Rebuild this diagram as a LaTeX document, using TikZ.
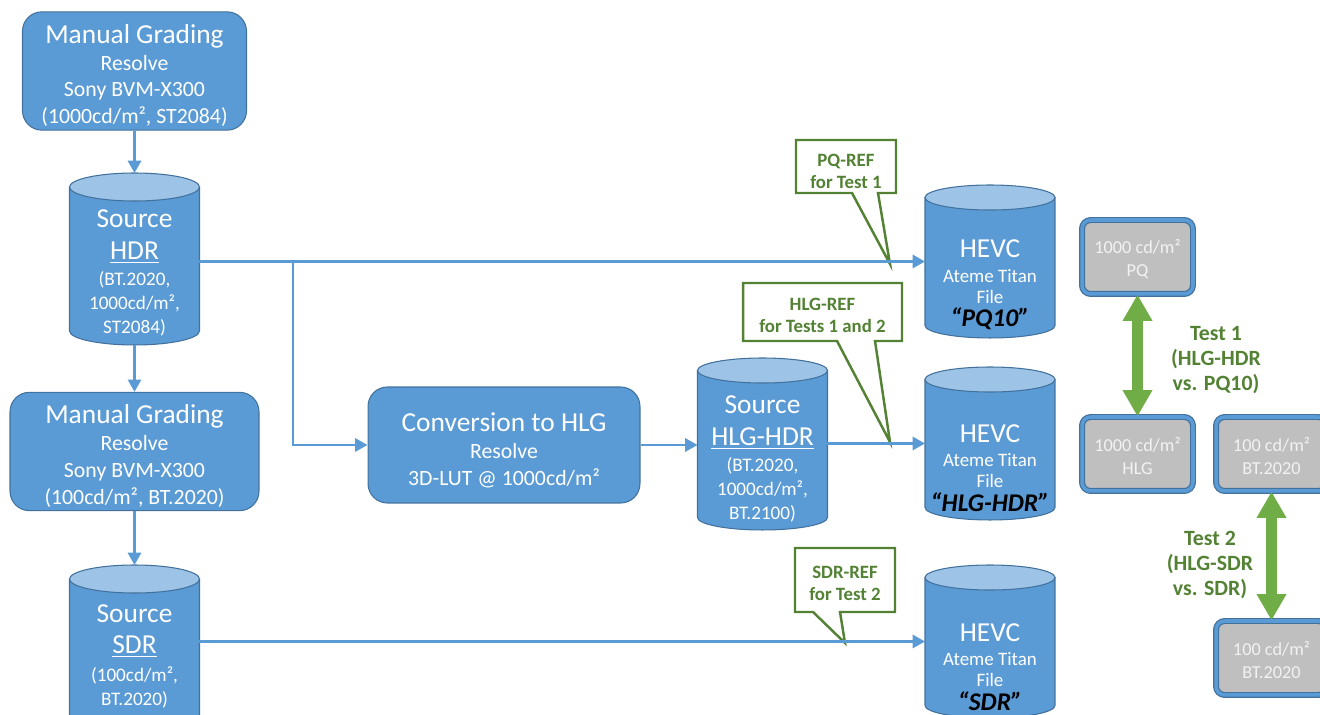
\documentclass[tikz,border=0pt]{standalone}
\usepackage{fontspec}
\setmainfont{Carlito}
\usepackage{tikz}
\usetikzlibrary{arrows.meta,positioning,calc,backgrounds}
\definecolor{hdblue}{HTML}{5B9BD5}
\definecolor{hdedge}{HTML}{41719C}
\definecolor{hdtop}{HTML}{9DC3E6}
\definecolor{hdgreen}{HTML}{70AD47}
\definecolor{hdtext}{HTML}{548235}
\definecolor{hdgray}{HTML}{BFBFBF}
\definecolor{hdlight}{HTML}{F2F2F2}
\newcommand{\hdbig}{\fontsize{15.6}{18}\selectfont}
\newcommand{\hdmid}{\fontsize{12.4}{15.2}\selectfont}
\newcommand{\hdsmall}{\fontsize{10.9}{13.6}\selectfont}
\newcommand{\hdname}{\fontsize{14.5}{16}\selectfont\bfseries\itshape\color{black}}
\newcommand{\hdup}[1]{\rule{0pt}{#1}}
% cylinder drawn round a named rectangle node
\newcommand{\drawdrum}[2]{%
  \draw[hdedge, line width=0.6pt, fill=hdblue]
    ([yshift=-#2]#1.north west) -- ([yshift=#2]#1.south west)
    arc[start angle=180, end angle=360, x radius=1.3cm, y radius=#2]
    -- ([yshift=-#2]#1.north east) -- cycle;
  \draw[hdedge, line width=0.6pt, fill=hdtop]
    ([yshift=-#2]#1.north) ellipse[x radius=1.3cm, y radius=#2];}
\tikzset{
  hdbox/.style={draw=hdedge, line width=0.6pt, fill=hdblue, rounded corners=11pt, text=white, align=center, font=\hdmid, inner sep=2pt},
  hddrum/.style={rectangle, minimum width=2.6cm, inner sep=0pt, outer sep=0pt},
  hdcyltext/.style={text=white, align=center, font=\hdsmall, inner sep=0pt},
  hdfiletext/.style={text=white, align=center, font=\fontsize{10.8}{12}\selectfont, inner sep=0pt},
  hdline/.style={draw=hdblue, line width=1.4pt, -{Triangle[length=7pt,width=7.5pt]}},
  hdref/.style={align=center, text=hdtext, font=\fontsize{10.7}{12.5}\selectfont\bfseries, inner sep=0pt, outer sep=0pt},
  hdrefline/.style={draw=hdtext, line width=1.4pt, fill=white},
  hdscreen/.style={draw=hdedge, double=hdblue, double distance=2pt, line width=0.7pt, fill=hdgray, rounded corners=5pt, minimum width=2.22cm, minimum height=1.48cm, text=hdlight, align=center, font=\fontsize{10.4}{13}\selectfont},
  hdtest/.style={draw=hdgreen, line width=6.2pt, {Triangle[length=15pt,width=16pt]}-{Triangle[length=15pt,width=16pt]}},
  hdtestlabel/.style={align=center, text=hdtext, font=\fontsize{12.4}{14.2}\selectfont\bfseries}
}

\begin{document}
\begin{tikzpicture}[x=0.02cm, y=-0.02cm]
  \useasboundingbox (0,0) rectangle (1320,715);

  % grading and source files
  \node[hdbox, minimum width=4.48cm, minimum height=2.36cm] (grade1) at (134.5,71)
    {{\hdbig\hdup{16pt}Manual Grading}\\Resolve\\Sony BVM-X300\\(1000cd/m², ST2084)};
  \node[hddrum, minimum height=3.44cm] (srchdr) at (134.5,259) {};
  \drawdrum{srchdr}{0.28cm}
  \node[hdcyltext] (srchdrtxt) at (134.5,273)
    {{\hdbig Source}\\[4.5pt]{\hdbig\underline{HDR}}\\[1pt](BT.2020,\\1000cd/m²,\\ST2084)};
  \node[hdbox, minimum width=4.98cm, minimum height=2.34cm] (grade2) at (134.5,451.5)
    {{\hdbig\hdup{16pt}Manual Grading}\\Resolve\\Sony BVM-X300\\(100cd/m², BT.2020)};
  \node[hddrum, minimum height=3.44cm] (srcsdr) at (134.5,651) {};
  \drawdrum{srcsdr}{0.28cm}
  \node[hdcyltext] (srcsdrtxt) at (134.5,656)
    {{\hdbig Source}\\[4.5pt]{\hdbig\underline{SDR}}\\[2pt](100cd/m²,\\BT.2020)};

  % HLG conversion
  \node[hdbox, minimum width=5.44cm, minimum height=2.32cm] (conv) at (504,445)
    {{\hdbig\hdup{17pt}Conversion to HLG}\\Resolve\\3D-LUT @ 1000cd/m²};
  \node[hddrum, minimum height=3.44cm] (srchlg) at (762.5,444) {};
  \drawdrum{srchlg}{0.25cm}
  \node[hdcyltext] (srchlgtxt) at (762.5,459)
    {{\hdbig Source}\\[4.5pt]{\hdbig\underline{HLG-HDR}}\\[1.5pt](BT.2020,\\1000cd/m²,\\BT.2100)};

  % encoded files
  \node[hddrum, minimum height=3.06cm] (hevcpq) at (990,261.5) {};
  \drawdrum{hevcpq}{0.25cm}
  \node[hdfiletext] (hevcpqtxt) at (990,285)
    {{\hdbig HEVC}\\[2pt]Ateme Titan\\File\\[1.5pt]{\hdname “PQ10”}};
  \node[hddrum, minimum height=3.06cm] (hevchlg) at (990,443.5) {};
  \drawdrum{hevchlg}{0.25cm}
  \node[hdfiletext] (hevchlgtxt) at (990,468)
    {{\hdbig HEVC}\\[2pt]Ateme Titan\\File\\[1.5pt]{\hdname “HLG-HDR”}};
  \node[hddrum, minimum height=3.06cm] (hevcsdr) at (990,641.5) {};
  \drawdrum{hevcsdr}{0.25cm}
  \node[hdfiletext] (hevcsdrtxt) at (990,667)
    {{\hdbig HEVC}\\[2pt]Ateme Titan\\File\\[1.5pt]{\hdname “SDR”}};

  \coordinate (split) at (293,0 |- hevcpq.west);
  \draw[hdline] (grade1) -- (srchdr);
  \draw[hdline] (srchdr) -- (grade2);
  \draw[hdline] (grade2) -- (srcsdr);
  \draw[hdline] (hevcpq.west -| srchdr.east) -- (hevcpq.west);
  \draw[hdline] (split) |- (conv.west);
  \draw[hdline] (conv.east) -- (conv.east -| srchlg.west);
  \draw[hdline] (hevchlg.west -| srchlg.east) -- (hevchlg.west);
  \draw[hdline] (hevcsdr.west -| srcsdr.east) -- (hevcsdr.west);

  % reference callouts
  \node[hdref, minimum width=2cm, minimum height=1.06cm] (pqref) at (846,166.5) {\hdup{13pt}PQ-REF\\for Test 1};
  \node[hdref, minimum width=3.18cm, minimum height=1.16cm] (hlgref) at (822.5,312) {\hdup{11pt}HLG-REF\\for Tests 1 and 2};
  \node[hdref, minimum width=2cm, minimum height=1.28cm] (sdrref) at (845,580) {\hdup{11pt}SDR-REF\\for Test 2};
  \coordinate (pqtip) at (890,264);
  \coordinate (hlgtip) at (890,442);
  \coordinate (sdrtip) at (845,643);
  \begin{scope}[on background layer]
    \draw[hdrefline] (pqref.south west) -- (pqref.north west) -- (pqref.north east) -- (pqref.south east)
      -- ($(pqref.south west)+(82,0)$) -- (pqtip) -- ($(pqref.south west)+(56,0)$) -- cycle;
    \draw[hdrefline] (hlgref.south west) -- (hlgref.north west) -- (hlgref.north east) -- (hlgref.south east)
      -- ($(hlgref.south west)+(132,0)$) -- (hlgtip) -- ($(hlgref.south west)+(94,0)$) -- cycle;
    \draw[hdrefline] (sdrref.south west) -- (sdrref.north west) -- (sdrref.north east) -- (sdrref.south east)
      -- ($(sdrref.south west)+(45,0)$) -- (sdrtip) -- ($(sdrref.south west)+(18,0)$) -- cycle;
  \end{scope}

  % displays and tests
  \node[hdscreen] (pqscr) at (1137.5,257) {\hdup{10.5pt}1000 cd/m²\\PQ};
  \node[hdscreen] (hlgscr) at (1137.5,454) {\hdup{10.5pt}1000 cd/m²\\HLG};
  \node[hdscreen] (sdrscra) at (1271.5,454) {\hdup{10.5pt}100 cd/m²\\BT.2020};
  \node[hdscreen] (sdrscrb) at (1271.5,658) {\hdup{10.5pt}100 cd/m²\\BT.2020};
  \draw[hdtest] (pqscr) -- (hlgscr);
  \draw[hdtest] (sdrscra) -- (sdrscrb);
  \node[hdtestlabel] (test1) at (1216,360.5) {Test 1\\(HLG-HDR\\vs. PQ10)};
  \node[hdtestlabel] (test2) at (1210,565) {Test 2\\(HLG-SDR\\vs. SDR)};
\end{tikzpicture}
\end{document}
